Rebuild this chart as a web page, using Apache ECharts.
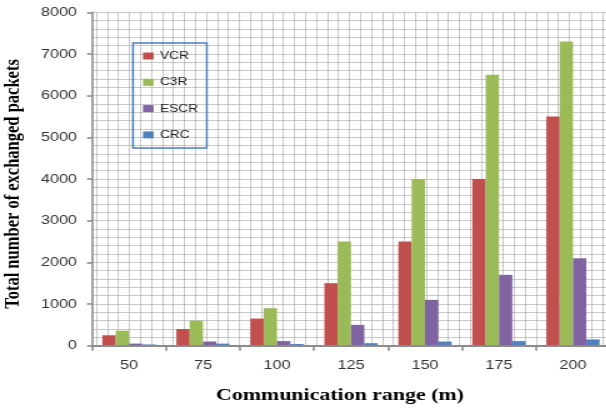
<!DOCTYPE html>
<html>
<head>
<meta charset="utf-8">
<script src="https://cdn.jsdelivr.net/npm/echarts@6/dist/echarts.min.js"></script>
<style>
  html, body { margin: 0; padding: 0; background: #fff; overflow: hidden; width: 606px; height: 408px; }
  /* the chart is laid out narrower and stretched horizontally; its right edge runs past the page */
  #chart { width: 488px; height: 408px; transform: scaleX(1.25); transform-origin: 0 0; }
</style>
</head>
<body>
<div id="chart"></div>
<script>
const categories = ['50', '75', '100', '125', '150', '175', '200'];
const seriesNames = ['VCR', 'C3R', 'ESCR', 'CRC'];
const vcr  = [250, 400, 650, 1500, 2500, 4000, 5500];
const c3r  = [360, 600, 900, 2500, 4000, 6500, 7300];
const escr = [50, 100, 110, 500, 1100, 1700, 2100];
const crc  = [30, 50, 40, 60, 100, 110, 150];
const colors = ['#C0504D', '#9BBB59', '#8064A2', '#4F81BD'];

const chart = echarts.init(document.getElementById('chart'));

const gridTop = 12.3, gridBottom = 62.3, gridLeft = 73.6, gridRight = 0;
const paperStep = 8.8, paperOffset = 3.44;
const chartWidth = 488;
const paperWidth = chartWidth - gridRight - gridLeft - paperOffset;

const gridColor = '#9c9c9c';
const axisColor = '#8c8c8c';
const labelFont = { fontFamily: 'Liberation Sans', fontSize: 13, color: '#333' };

function bar(name, data, color) {
  return {
    name: name, type: 'bar', data: data,
    xAxisIndex: 0, yAxisIndex: 0,
    barGap: '0%', barCategoryGap: '28%',
    z: 10,
    itemStyle: { color: color }
  };
}

chart.setOption({
  animation: false,
  grid: [
    { left: gridLeft, right: gridRight, top: gridTop, bottom: gridBottom },
    { left: gridLeft + paperOffset, right: gridRight, top: gridTop, bottom: gridBottom }
  ],
  legend: {
    data: seriesNames,
    orient: 'vertical',
    left: 106.4, top: 43,
    z: 12,
    icon: 'rect',
    itemWidth: 8.5, itemHeight: 7, itemGap: 14.3,
    padding: [7, 7, 7, 8],
    borderColor: '#4a7ebb', borderWidth: 1.5,
    textStyle: { fontFamily: 'Liberation Sans', fontSize: 11, color: '#222', lineHeight: 12 }
  },
  xAxis: [
    {
      type: 'category', data: categories, gridIndex: 0, z: 11,
      axisLine: { lineStyle: { color: axisColor, width: 2 } },
      axisTick: { show: true, length: 5, lineStyle: { color: axisColor, width: 1.6 } },
      axisLabel: Object.assign({ margin: 13 }, labelFont),
      splitLine: { show: false }
    },
    {
      // vertical graph-paper lines behind the bars
      type: 'value', gridIndex: 1, min: 0, max: paperWidth, interval: paperStep, z: 0,
      axisLine: { show: false }, axisTick: { show: false }, axisLabel: { show: false },
      splitLine: { show: true, lineStyle: { color: gridColor, width: 1, opacity: 0.55 } }
    }
  ],
  yAxis: [
    {
      type: 'value', gridIndex: 0, min: 0, max: 8000, interval: 1000, z: 0,
      axisLine: { show: true, lineStyle: { color: axisColor, width: 1.6 } },
      axisTick: { show: true, length: 4, lineStyle: { color: axisColor, width: 1.6 } },
      axisLabel: Object.assign({ margin: 12, formatter: function (v) { return String(v); } }, labelFont),
      splitLine: { show: true, lineStyle: { color: gridColor, width: 1.2, opacity: 0.55 } },
      minorTick: { show: false, splitNumber: 5 },
      minorSplitLine: { show: true, lineStyle: { color: gridColor, width: 1.2, opacity: 0.55 } }
    },
    { type: 'value', gridIndex: 1, min: 0, max: 1, show: false }
  ],
  series: [
    bar(seriesNames[0], vcr, colors[0]),
    bar(seriesNames[1], c3r, colors[1]),
    bar(seriesNames[2], escr, colors[2]),
    bar(seriesNames[3], crc, colors[3])
  ],
  graphic: [
    {
      type: 'text', x: 11.2, y: 184, rotation: Math.PI / 2,
      style: {
        text: 'Total number of exchanged packets',
        font: 'bold 16.5px "Liberation Serif"', fill: '#000',
        align: 'center', verticalAlign: 'middle',
        textAlign: 'center', textVerticalAlign: 'middle'
      }
    },
    {
      type: 'text', x: 272, y: 395,
      style: {
        text: 'Communication range (m)',
        font: 'bold 17.5px "Liberation Serif"', fill: '#000',
        align: 'center', verticalAlign: 'middle',
        textAlign: 'center', textVerticalAlign: 'middle'
      }
    }
  ]
});
</script>
</body>
</html>
